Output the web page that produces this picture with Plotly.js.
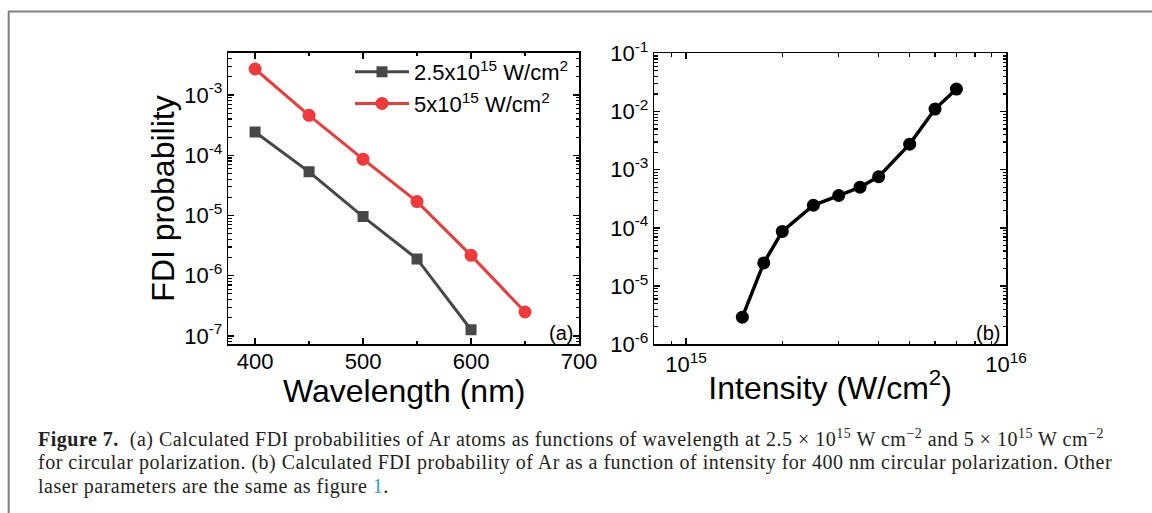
<!DOCTYPE html>
<html>
<head>
<meta charset="utf-8">
<script src="https://cdn.plot.ly/plotly-3.0.1.min.js"></script>
<style>html,body{margin:0;padding:0;background:#fff;}#chart{width:1152px;height:513px;}</style>
</head>
<body>
<div id="chart"></div>
<script>
// Panel (a): FDI probability vs wavelength
const wavelengthLow = [400, 450, 500, 550, 600];
const probLow = [2.43e-4, 5.3e-5, 9.6e-6, 1.9e-6, 1.27e-7];
const wavelengthHigh = [400, 450, 500, 550, 600, 650];
const probHigh = [2.7e-3, 4.6e-4, 8.6e-5, 1.7e-5, 2.18e-6, 2.5e-7];
const nameLow = '2.5x10<sup>15</sup> W/cm<sup>2</sup>';
const nameHigh = '5x10<sup>15</sup> W/cm<sup>2</sup>';

// Panel (b): FDI probability vs intensity (400 nm)
const intensity = [1.5e15, 1.75e15, 2e15, 2.5e15, 3e15, 3.5e15, 4e15, 5e15, 6e15, 7e15];
const probIntensity = [2.93e-6, 2.5e-5, 8.7e-5, 2.45e-4, 3.6e-4, 5.0e-4, 7.6e-4, 2.75e-3, 1.1e-2, 2.43e-2];

// Tick labels
const yTickValsA = [1e-7, 1e-6, 1e-5, 1e-4, 1e-3];
const yTickTextA = ['10<sup>-7</sup>', '10<sup>-6</sup>', '10<sup>-5</sup>', '10<sup>-4</sup>', '10<sup>-3</sup>'];
const xTickValsA = [400, 500, 600, 700];
const yTickValsB = [1e-6, 1e-5, 1e-4, 1e-3, 1e-2, 1e-1];
const yTickTextB = ['10<sup>-6</sup>', '10<sup>-5</sup>', '10<sup>-4</sup>', '10<sup>-3</sup>', '10<sup>-2</sup>', '10<sup>-1</sup>'];
const xTickValsB = [1e15, 1e16];
const xTickTextB = ['10<sup>15</sup>', '10<sup>16</sup>'];

const captionLines = [
  '<b>Figure 7.</b>&nbsp;&nbsp;(a) Calculated FDI probabilities of Ar atoms as functions of wavelength at 2.5 × 10<sup>15</sup> W cm<sup>−2</sup> and 5 × 10<sup>15</sup> W cm<sup>−2</sup>',
  'for circular polarization. (b) Calculated FDI probability of Ar as a function of intensity for 400 nm circular polarization. Other',
  'laser parameters are the same as figure <span style="color:#2a9fd8">1</span>.'
];

const W = 1152, H = 513;
const px = v => v / W, py = v => 1 - v / H;

const sans = 'Liberation Sans, Arial, sans-serif';
const serif = 'Liberation Serif, Times New Roman, serif';

const traces = [
  {x: wavelengthLow, y: probLow, name: nameLow, type: 'scatter', mode: 'lines+markers',
   line: {color: '#474747', width: 3}, marker: {symbol: 'square', size: 11, color: '#474747'},
   xaxis: 'x', yaxis: 'y'},
  {x: wavelengthHigh, y: probHigh, name: nameHigh, type: 'scatter', mode: 'lines+markers',
   line: {color: '#f03a3a', width: 3}, marker: {symbol: 'circle', size: 13, color: '#f03a3a'},
   xaxis: 'x', yaxis: 'y'},
  {x: intensity, y: probIntensity, name: 'intensity', showlegend: false, type: 'scatter', mode: 'lines+markers',
   line: {color: '#000000', width: 3.5}, marker: {symbol: 'circle', size: 13, color: '#000000'},
   xaxis: 'x2', yaxis: 'y2'}
];

const axisCommon = {
  showline: true, mirror: 'ticks', linecolor: '#000', linewidth: 1.5,
  ticks: 'inside', ticklen: 6, tickwidth: 1.3, tickcolor: '#000',
  showgrid: false, zeroline: false, automargin: false,
  tickfont: {family: sans, size: 22, color: '#000'}
};
const minorLog = {dtick: 'D1', ticks: 'inside', ticklen: 3.5, tickwidth: 1.2, tickcolor: '#000', showgrid: false};

const captionAnn = captionLines.map((t, i) => ({
  text: '<span style="letter-spacing:0.5px">' + t + '</span>',
  xref: 'paper', yref: 'paper', x: px(36), y: py(438 + 24 * i), xanchor: 'left', yanchor: 'middle',
  align: 'left', showarrow: false, font: {family: serif, size: 20, color: '#231f20'}
}));

const layout = {
  width: W, height: H,
  margin: {l: 0, r: 0, t: 0, b: 0},
  paper_bgcolor: '#fff', plot_bgcolor: '#fff',
  showlegend: true,
  legend: {x: px(350), y: py(51), xanchor: 'left', yanchor: 'top', bgcolor: 'rgba(0,0,0,0)',
           font: {family: sans, size: 22, color: '#000'}, itemwidth: 54, tracegroupgap: 0},
  xaxis: Object.assign({}, axisCommon, {
    domain: [px(228.3), px(579)], anchor: 'y', range: [375.2, 700],
    tickvals: xTickValsA, ticktext: xTickValsA.map(String), ticklabelstandoff: -3,
    minor: {dtick: 50, ticks: 'inside', ticklen: 3.5, tickwidth: 1.2, tickcolor: '#000', showgrid: false}
  }),
  yaxis: Object.assign({}, axisCommon, {
    type: 'log', domain: [py(344.3), py(52.7)], anchor: 'x', range: [-7.138, -2.298],
    tickvals: yTickValsA, ticktext: yTickTextA, minor: minorLog,
    title: {text: 'FDI probability', font: {family: sans, size: 32, color: '#000'}, standoff: 0}
  }),
  xaxis2: Object.assign({}, axisCommon, {
    type: 'log', domain: [px(654.3), px(1006)], anchor: 'y2', range: [14.901, 16],
    tickvals: xTickValsB, ticktext: xTickTextB, minor: minorLog,
    title: {text: 'Intensity (W/cm<sup>2</sup>)', font: {family: sans, size: 32, color: '#000'}, standoff: 0}
  }),
  yaxis2: Object.assign({}, axisCommon, {
    type: 'log', domain: [py(344.3), py(53.3)], anchor: 'x2', range: [-6, -1],
    tickvals: yTickValsB, ticktext: yTickTextB, minor: minorLog
  }),
  annotations: [
    {text: 'Wavelength (nm)', xref: 'paper', yref: 'paper', x: px(404), y: py(391), xanchor: 'center', yanchor: 'middle',
     showarrow: false, font: {family: sans, size: 32, color: '#000'}},
    {text: '(a)', xref: 'paper', yref: 'paper', x: px(575), y: py(346), xanchor: 'right', yanchor: 'bottom',
     showarrow: false, font: {family: sans, size: 20, color: '#000'}},
    {text: '(b)', xref: 'paper', yref: 'paper', x: px(1002), y: py(346), xanchor: 'right', yanchor: 'bottom',
     showarrow: false, font: {family: sans, size: 20, color: '#000'}}
  ].concat(captionAnn),
  shapes: [
    {type: 'line', xref: 'paper', yref: 'paper', x0: px(8), x1: 1, y0: py(11.5), y1: py(11.5), line: {color: '#808080', width: 2}},
    {type: 'line', xref: 'paper', yref: 'paper', x0: px(8.7), x1: px(8.7), y0: py(11), y1: 0, line: {color: '#808080', width: 2}}
  ]
};

Plotly.newPlot('chart', traces, layout, {displayModeBar: false, staticPlot: true});
</script>
</body>
</html>
